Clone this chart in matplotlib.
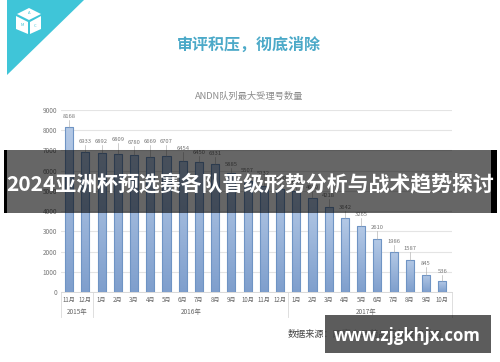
import matplotlib
matplotlib.use("Agg")
import matplotlib.pyplot as plt
from matplotlib.patches import Polygon, Rectangle
import numpy as np

plt.rcParams['font.family'] = ['Noto Sans CJK SC', 'DejaVu Sans']

months = ["11月", "12月", "1月", "2月", "3月", "4月", "5月", "6月", "7月", "8月", "9月", "10月",
          "11月", "12月", "1月", "2月", "3月", "4月", "5月", "6月", "7月", "8月", "9月", "10月"]
values = [8168, 6933, 6892, 6809, 6780, 6669, 6707, 6454, 6450, 6331, 5885, 5507,
          5232, 5100, 4980, 4650, 4218, 3642, 3265, 2610, 1986, 1587, 845, 536]
years = ["2015年", "2016年", "2017年"]
year_spans = [(0, 1), (2, 13), (14, 23)]
y_ticks = [0, 1000, 2000, 3000, 4000, 5000, 6000, 7000, 8000, 9000]

W, H = 500, 362
fig = plt.figure(figsize=(W / 100, H / 100), dpi=100, facecolor="white")

# full-figure layer in pixel coordinates, top-left origin
bg = fig.add_axes([0, 0, 1, 1])
bg.set_xlim(0, W)
bg.set_ylim(H, 0)
bg.axis("off")
bg.add_patch(Polygon([(7, 0), (84, 0), (7, 75)], color="#3fc5d8", lw=0))
bg.add_patch(Polygon([(29, 8), (17, 14), (29, 20), (41, 14)], color="white", lw=0))
bg.add_patch(Polygon([(16, 16), (28, 22), (28, 34), (16, 29)], color="white", lw=0))
bg.add_patch(Polygon([(30, 22), (41, 16), (41, 29), (30, 34)], color="white", lw=0))
bg.text(29, 13.5, "A", color="#3fc5d8", fontsize=3, ha="center", va="center")
bg.text(22, 25, "M", color="#3fc5d8", fontsize=3, ha="center", va="center")
bg.text(35.5, 26, "C", color="#3fc5d8", fontsize=3, ha="center", va="center")
bg.text(249, 45, "审评积压，彻底消除", color="#4ba9c8", fontsize=11.5, fontweight="bold", ha="center", va="center")
bg.text(249, 96, "ANDN队列最大受理号数量", color="#8c8c8c", fontsize=6.7, ha="center", va="center")

# chart
left, right, top, bottom = 61, 452, 110, 292
ax = fig.add_axes([left / W, 1 - bottom / H, (right - left) / W, (bottom - top) / H])
ax.set_facecolor("none")
x = np.arange(len(values))
bars = ax.bar(x, values, width=0.5, facecolor="none", edgecolor="#6f94c4", linewidth=0.8, zorder=3)
grad = np.linspace(0, 1, 64).reshape(-1, 1)
cmap = matplotlib.colors.LinearSegmentedColormap.from_list("bar", ["#b4c9e6", "#7f9fcd"])
for b in bars:
    im = ax.imshow(grad, cmap=cmap, aspect="auto", zorder=2,
                   extent=[b.get_x(), b.get_x() + b.get_width(), 0, b.get_height()])
    im.set_clip_path(Rectangle((b.get_x(), 0), b.get_width(), b.get_height(), transform=ax.transData))
ax.set_xlim(-0.5, 23.6)
ax.set_ylim(0, 9000)

ax.set_yticks(y_ticks)
ax.set_yticklabels([str(v) for v in y_ticks], fontsize=4.6, color="#777777")
ax.tick_params(axis="y", length=0, pad=3)
ax.grid(axis="y", color="#e4e4e4", linewidth=0.8, zorder=0)
ax.set_axisbelow(True)
for s in ["top", "right", "left"]:
    ax.spines[s].set_visible(False)
ax.spines["bottom"].set_color("#d9d9d9")
ax.spines["bottom"].set_linewidth(0.7)

ax.set_xticks(x)
ax.set_xticklabels(months, fontsize=4.4, color="#666666")
ax.tick_params(axis="x", length=0, pad=3)

# value labels with small leader lines, staggered as in the source chart
offsets = [495, 493, 534, 716, 596, 757, 719, 625, 431, 501, 402, 483,
           610, 500, 500, 500, 534, 516, 547, 558, 489, 542, 541, 454]
for i, v in enumerate(values):
    ax.plot([i, i], [v, v + offsets[i] - 170], color="#a6a6a6", lw=0.4, zorder=4)
    ax.text(i, v + offsets[i], str(v), fontsize=4.2, color="#777777", ha="center", va="center")

# year groups under the month labels
trans = ax.get_xaxis_transform()
edges = [-0.5, 1.5, 13.5, 23.6]
for e in edges:
    ax.plot([e, e], [0, -0.137], color="#d9d9d9", lw=0.6, transform=trans, clip_on=False)
for name, (a, b) in zip(years, year_spans):
    ax.text((a + b) / 2 - (0.2 if a == 14 else 0), -0.11, name, fontsize=4.6, color="#666666",
            ha="center", va="center", transform=trans)

# overlays on top
top_layer = fig.add_axes([0, 0, 1, 1])
top_layer.set_xlim(0, W)
top_layer.set_ylim(H, 0)
top_layer.axis("off")
top_layer.patch.set_alpha(0)
top_layer.text(288, 334, "数据来源：国家食品药品监督管理总局", color="#444444", fontsize=6.6, ha="left", va="center")
top_layer.add_patch(Rectangle((4, 150), 3, 63, color="black", lw=0))
top_layer.add_patch(Rectangle((491, 150), 6, 63, color="black", lw=0))
top_layer.add_patch(Rectangle((7, 150), 484, 63, color="black", alpha=0.6, lw=0))
top_layer.text(250, 185, "2024亚洲杯预选赛各队晋级形势分析与战术趋势探讨", color="white", fontsize=15.05,
               fontweight="bold", ha="center", va="center")
top_layer.add_patch(Rectangle((325, 315), 166, 38, color="black", alpha=0.64, lw=0))
top_layer.text(407, 336, "www.zjgkhjx.com", color="white", fontsize=12.1, fontweight="bold",
               ha="center", va="center", family="Open Sans")

fig.savefig("out.png", dpi=100, facecolor="white")
plt.close(fig)
